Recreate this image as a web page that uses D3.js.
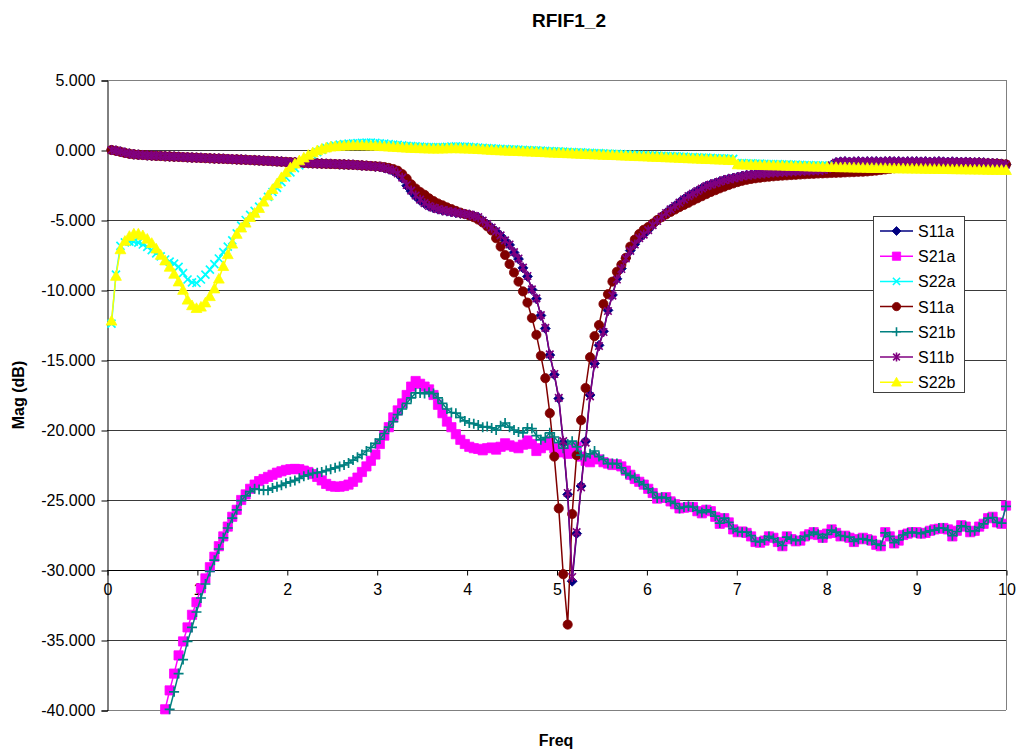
<!DOCTYPE html>
<html>
<head>
<meta charset="utf-8">
<script src="https://cdn.jsdelivr.net/npm/d3@7"></script>
<style>
  html, body { margin: 0; padding: 0; background: #fff; }
  svg { display: block; }
  text { font-family: Arial, "Liberation Sans", sans-serif; fill: #000; }
</style>
</head>
<body>
<svg id="chart" width="1016" height="750"></svg>
<script>
// Sweep: 201 points, 0.05 .. 10 GHz
const sweepStartGHz = 0.05;
const sweepStopGHz = 10;
const sweepPoints = 201;
const freqGHz = d3.range(sweepPoints).map(i => sweepStartGHz + i * (sweepStopGHz - sweepStartGHz) / (sweepPoints - 1));

const yTicks = [5, 0, -5, -10, -15, -20, -25, -30, -35, -40];
const xTicks = [0, 1, 2, 3, 4, 5, 6, 7, 8, 9, 10];

// Magnitudes in dB, one entry per sweep point
const s11aNavy = [0.00,-0.05,-0.12,-0.19,-0.26,-0.31,-0.34,-0.36,-0.38,-0.40,
-0.42,-0.43,-0.44,-0.46,-0.48,-0.49,-0.50,-0.52,-0.54,-0.55,
-0.56,-0.58,-0.59,-0.60,-0.62,-0.63,-0.64,-0.66,-0.67,-0.68,
-0.70,-0.72,-0.73,-0.75,-0.76,-0.78,-0.80,-0.81,-0.83,-0.85,
-0.87,-0.88,-0.90,-0.92,-0.94,-0.95,-0.96,-0.97,-0.99,-1.00,
-1.00,-1.02,-1.03,-1.05,-1.06,-1.08,-1.10,-1.13,-1.15,-1.18,
-1.21,-1.28,-1.37,-1.50,-1.70,-2.02,-2.55,-2.95,-3.30,-3.60,
-3.83,-4.02,-4.14,-4.23,-4.31,-4.37,-4.43,-4.48,-4.53,-4.58,
-4.63,-4.71,-4.82,-5.06,-5.31,-5.56,-5.82,-6.12,-6.47,-6.78,
-7.32,-7.78,-8.42,-9.03,-9.97,-10.63,-11.82,-12.75,-14.65,-16.05,
-17.75,-20.90,-24.60,-30.80,-27.40,-24.00,-20.80,-17.50,-15.25,-13.95,
-12.95,-11.45,-10.35,-9.20,-8.47,-7.72,-7.18,-6.73,-6.28,-6.03,
-5.71,-5.35,-5.05,-4.76,-4.48,-4.22,-3.98,-3.74,-3.50,-3.28,
-3.10,-2.92,-2.74,-2.57,-2.46,-2.36,-2.25,-2.14,-2.06,-2.00,
-1.93,-1.86,-1.80,-1.76,-1.72,-1.69,-1.66,-1.63,-1.60,-1.58,
-1.56,-1.54,-1.52,-1.50,-1.49,-1.47,-1.46,-1.44,-1.43,-1.41,
-1.33,-1.08,-0.89,-0.84,-0.83,-0.85,-0.84,-0.82,-0.84,-0.83,
-0.83,-0.82,-0.84,-0.83,-0.81,-0.83,-0.82,-0.84,-0.83,-0.83,
-0.82,-0.84,-0.83,-0.85,-0.84,-0.82,-0.84,-0.86,-0.84,-0.85,
-0.87,-0.85,-0.87,-0.89,-0.88,-0.90,-0.92,-0.94,-0.96,-0.99,
-1.04];

const s21a = [-62.0,-58.0,-55.0,-52.5,-50.5,-48.8,-47.3,-46.0,-44.7,-43.5,
-42.4,-41.2,-39.95,-38.6,-37.4,-36.1,-35.1,-34.1,-33.2,-32.3,
-31.3,-30.6,-29.8,-29.05,-28.3,-27.6,-26.9,-26.2,-25.7,-25.0,
-24.6,-24.2,-23.9,-23.65,-23.5,-23.35,-23.2,-23.05,-22.95,-22.85,
-22.8,-22.78,-22.8,-22.9,-23.0,-23.15,-23.35,-23.6,-23.85,-24.0,
-24.05,-24.05,-24.0,-23.9,-23.7,-23.4,-23.0,-22.6,-22.2,-21.75,
-21.0,-20.4,-19.8,-19.1,-18.6,-18.1,-17.5,-16.9,-16.5,-16.7,
-16.9,-17.1,-17.5,-18.2,-18.8,-19.4,-19.8,-20.3,-20.7,-21.0,
-21.2,-21.3,-21.35,-21.45,-21.3,-21.25,-21.4,-21.2,-20.95,-21.1,
-21.2,-21.3,-21.05,-20.75,-21.0,-21.5,-21.3,-21.1,-20.8,-21.3,
-21.5,-21.6,-21.7,-21.4,-21.2,-21.9,-22.2,-22.3,-22.0,-22.1,
-22.3,-22.4,-22.5,-22.45,-22.6,-22.9,-23.2,-23.5,-23.7,-23.9,
-24.2,-24.5,-24.9,-24.85,-24.8,-25.1,-25.3,-25.6,-25.55,-25.5,
-25.5,-25.8,-25.95,-25.7,-25.8,-26.2,-26.7,-26.3,-26.6,-27.1,
-27.3,-27.25,-27.35,-27.6,-28.0,-28.05,-27.9,-27.6,-27.7,-28.0,
-28.3,-27.6,-27.8,-27.95,-27.9,-27.6,-27.45,-27.3,-27.5,-27.7,
-27.4,-27.1,-27.35,-27.6,-27.55,-27.7,-28.0,-27.8,-27.7,-27.8,
-27.9,-28.2,-28.3,-27.3,-27.6,-28.1,-27.9,-27.5,-27.4,-27.3,
-27.3,-27.4,-27.35,-27.2,-27.1,-27.05,-27.0,-27.1,-27.6,-27.2,
-26.8,-26.9,-27.3,-27.2,-26.9,-26.7,-26.3,-26.2,-26.6,-26.7,
-25.4];

const s22a = [-12.40,-8.90,-6.85,-6.60,-6.55,-6.55,-6.62,-6.75,-6.92,-7.15,
-7.38,-7.60,-7.82,-7.98,-8.12,-8.35,-8.80,-9.25,-9.45,-9.50,
-9.25,-8.90,-8.55,-8.15,-7.75,-7.30,-6.90,-6.45,-5.95,-5.40,
-5.00,-4.64,-4.35,-4.05,-3.70,-3.35,-3.00,-2.70,-2.30,-1.95,
-1.60,-1.30,-1.10,-0.85,-0.60,-0.38,-0.15,0.00,0.15,0.25,
0.32,0.38,0.42,0.45,0.48,0.50,0.51,0.52,0.52,0.51,
0.48,0.45,0.42,0.39,0.36,0.33,0.30,0.28,0.26,0.24,
0.22,0.21,0.20,0.20,0.21,0.23,0.25,0.26,0.25,0.24,
0.22,0.20,0.18,0.16,0.14,0.12,0.10,0.08,0.07,0.05,
0.04,0.03,0.01,0.00,-0.02,-0.03,-0.05,-0.06,-0.08,-0.09,
-0.10,-0.12,-0.13,-0.15,-0.16,-0.17,-0.19,-0.20,-0.22,-0.23,
-0.24,-0.26,-0.27,-0.28,-0.30,-0.31,-0.32,-0.34,-0.35,-0.36,
-0.38,-0.39,-0.40,-0.42,-0.43,-0.44,-0.46,-0.47,-0.48,-0.50,
-0.51,-0.52,-0.54,-0.55,-0.56,-0.58,-0.59,-0.60,-0.62,-0.63,
-0.93,-0.94,-0.95,-0.96,-0.97,-0.98,-0.99,-1.00,-1.00,-1.01,
-1.02,-1.03,-1.04,-1.05,-1.06,-1.07,-1.08,-1.09,-1.10,-1.10,
-1.11,-1.12,-1.13,-1.14,-1.14,-1.15,-1.16,-1.17,-1.17,-1.18,
-1.19,-1.19,-1.20,-1.20,-1.21,-1.21,-1.22,-1.22,-1.23,-1.23,
-1.24,-1.24,-1.25,-1.25,-1.26,-1.26,-1.27,-1.27,-1.28,-1.28,
-1.29,-1.29,-1.30,-1.30,-1.31,-1.31,-1.32,-1.32,-1.33,-1.33,
-1.34];

const s11aRed = [0.00,-0.06,-0.13,-0.21,-0.27,-0.31,-0.34,-0.36,-0.38,-0.40,
-0.42,-0.43,-0.45,-0.46,-0.48,-0.49,-0.51,-0.52,-0.54,-0.55,
-0.57,-0.58,-0.59,-0.61,-0.62,-0.63,-0.65,-0.66,-0.67,-0.69,
-0.70,-0.72,-0.73,-0.75,-0.77,-0.78,-0.80,-0.82,-0.84,-0.85,
-0.87,-0.89,-0.90,-0.92,-0.94,-0.95,-0.96,-0.98,-0.99,-1.00,
-1.01,-1.02,-1.03,-1.05,-1.06,-1.08,-1.10,-1.12,-1.14,-1.16,
-1.18,-1.22,-1.28,-1.36,-1.48,-1.72,-2.05,-2.45,-2.75,-3.00,
-3.20,-3.45,-3.65,-3.82,-3.95,-4.10,-4.22,-4.35,-4.47,-4.57,
-4.67,-4.80,-4.97,-5.18,-5.45,-5.75,-6.30,-6.90,-7.50,-8.15,
-8.75,-9.40,-10.10,-10.90,-12.00,-13.20,-14.70,-16.30,-18.80,-21.90,
-25.60,-30.30,-33.90,-26.00,-21.80,-19.30,-17.00,-14.80,-13.30,-12.50,
-11.00,-10.30,-9.40,-8.70,-8.20,-7.70,-6.90,-6.40,-6.00,-5.70,
-5.50,-5.25,-5.00,-4.80,-4.60,-4.42,-4.25,-4.08,-3.92,-3.77,
-3.60,-3.45,-3.30,-3.15,-3.00,-2.87,-2.74,-2.62,-2.50,-2.39,
-2.29,-2.20,-2.13,-2.07,-2.02,-1.98,-1.94,-1.91,-1.88,-1.85,
-1.83,-1.81,-1.79,-1.77,-1.75,-1.73,-1.71,-1.70,-1.68,-1.67,
-1.66,-1.64,-1.63,-1.62,-1.60,-1.59,-1.58,-1.56,-1.55,-1.53,
-1.50,-1.47,-1.43,-1.39,-1.35,-1.30,-1.25,-1.20,-1.15,-1.10,
-1.07,-1.04,-1.02,-1.00,-0.99,-0.98,-0.97,-0.96,-0.96,-0.95,
-0.95,-0.94,-0.94,-0.95,-0.94,-0.95,-0.96,-0.97,-0.98,-1.00,
-1.03];

const s21b = [-66.0,-61.0,-57.0,-54.0,-52.0,-50.0,-48.5,-47.2,-46.0,-44.9,
-43.8,-42.6,-41.3,-39.95,-38.7,-37.4,-36.4,-35.1,-34.1,-33.0,
-32.0,-31.0,-30.1,-29.3,-28.5,-27.7,-27.0,-26.3,-25.7,-25.05,
-24.7,-24.4,-24.2,-24.25,-24.3,-24.3,-24.15,-24.05,-23.95,-23.8,
-23.7,-23.6,-23.45,-23.3,-23.2,-23.1,-23.05,-23.0,-22.9,-22.8,
-22.7,-22.6,-22.5,-22.35,-22.15,-21.95,-21.75,-21.5,-21.25,-20.95,
-20.65,-20.25,-19.8,-19.4,-18.9,-18.5,-18.1,-17.7,-17.35,-17.35,
-17.4,-17.3,-17.4,-17.7,-18.1,-18.5,-18.75,-18.8,-19.1,-19.35,
-19.5,-19.55,-19.65,-19.8,-19.75,-19.85,-20.0,-19.7,-19.5,-19.8,
-20.0,-20.15,-20.2,-19.85,-19.9,-20.4,-20.7,-20.55,-20.2,-20.5,
-20.9,-21.3,-21.0,-20.8,-21.2,-21.8,-21.9,-21.7,-21.5,-21.9,
-22.1,-22.4,-22.4,-22.4,-22.7,-23.1,-23.25,-23.4,-23.7,-23.9,
-24.2,-24.45,-24.85,-24.8,-24.85,-25.1,-25.25,-25.6,-25.5,-25.45,
-25.5,-25.75,-25.9,-25.7,-25.85,-26.15,-26.65,-26.3,-26.6,-27.05,
-27.25,-27.3,-27.3,-27.55,-27.95,-28.0,-27.85,-27.6,-27.75,-28.0,
-28.25,-27.65,-27.8,-27.9,-27.85,-27.6,-27.5,-27.3,-27.45,-27.7,
-27.45,-27.15,-27.3,-27.55,-27.6,-27.65,-27.95,-27.8,-27.75,-27.85,
-27.9,-28.15,-28.25,-27.35,-27.6,-28.05,-27.85,-27.5,-27.35,-27.3,
-27.35,-27.4,-27.3,-27.2,-27.15,-27.0,-27.0,-27.15,-27.55,-27.25,
-26.85,-26.9,-27.25,-27.2,-26.95,-26.7,-26.3,-26.25,-26.6,-26.65,
-25.45];

const s11b = [0.00,-0.05,-0.12,-0.20,-0.26,-0.31,-0.34,-0.36,-0.38,-0.40,
-0.41,-0.43,-0.44,-0.46,-0.47,-0.49,-0.50,-0.52,-0.53,-0.55,
-0.56,-0.57,-0.59,-0.60,-0.61,-0.63,-0.64,-0.65,-0.67,-0.68,
-0.70,-0.71,-0.73,-0.74,-0.76,-0.78,-0.79,-0.81,-0.83,-0.85,
-0.86,-0.88,-0.90,-0.92,-0.93,-0.95,-0.96,-0.97,-0.98,-0.99,
-1.00,-1.01,-1.03,-1.04,-1.06,-1.08,-1.10,-1.12,-1.15,-1.18,
-1.20,-1.27,-1.36,-1.48,-1.68,-1.98,-2.50,-2.90,-3.25,-3.55,
-3.80,-4.00,-4.12,-4.22,-4.30,-4.36,-4.42,-4.47,-4.52,-4.57,
-4.62,-4.70,-4.80,-5.05,-5.30,-5.55,-5.80,-6.10,-6.45,-6.75,
-7.30,-7.75,-8.40,-9.00,-9.95,-10.60,-11.80,-12.70,-14.60,-16.00,
-17.70,-20.80,-24.50,-30.50,-27.30,-24.10,-20.90,-17.60,-15.30,-14.00,
-13.00,-11.50,-10.40,-9.25,-8.50,-7.75,-7.20,-6.75,-6.30,-6.05,
-5.73,-5.37,-5.07,-4.78,-4.50,-4.24,-4.00,-3.76,-3.52,-3.29,
-3.11,-2.93,-2.75,-2.58,-2.47,-2.37,-2.26,-2.15,-2.07,-2.01,
-1.94,-1.87,-1.80,-1.77,-1.73,-1.70,-1.67,-1.64,-1.61,-1.59,
-1.57,-1.55,-1.53,-1.51,-1.50,-1.48,-1.47,-1.45,-1.44,-1.42,
-1.35,-1.10,-0.90,-0.85,-0.83,-0.86,-0.84,-0.82,-0.85,-0.83,
-0.84,-0.82,-0.85,-0.83,-0.81,-0.84,-0.82,-0.85,-0.83,-0.84,
-0.82,-0.85,-0.83,-0.86,-0.84,-0.82,-0.85,-0.87,-0.84,-0.86,
-0.88,-0.85,-0.87,-0.90,-0.88,-0.91,-0.93,-0.95,-0.97,-1.00,
-1.05];

const s22b = [-12.20,-9.00,-7.10,-6.50,-6.15,-5.98,-5.98,-6.10,-6.35,-6.65,
-7.05,-7.50,-7.90,-8.35,-8.85,-9.40,-10.00,-10.70,-11.10,-11.30,
-11.20,-10.90,-10.45,-9.90,-9.20,-8.30,-7.45,-6.70,-6.00,-5.55,
-5.20,-4.80,-4.50,-4.15,-3.70,-3.25,-2.80,-2.40,-1.95,-1.60,
-1.25,-0.98,-0.75,-0.55,-0.36,-0.18,-0.03,0.08,0.17,0.24,
0.26,0.29,0.31,0.32,0.33,0.33,0.33,0.32,0.31,0.30,
0.28,0.26,0.24,0.22,0.20,0.18,0.16,0.14,0.13,0.12,
0.11,0.10,0.09,0.09,0.10,0.11,0.12,0.12,0.11,0.10,
0.09,0.08,0.06,0.04,0.02,0.00,-0.02,-0.03,-0.05,-0.06,
-0.07,-0.08,-0.10,-0.11,-0.12,-0.14,-0.15,-0.17,-0.19,-0.20,
-0.21,-0.22,-0.24,-0.25,-0.27,-0.28,-0.30,-0.31,-0.32,-0.33,
-0.35,-0.36,-0.37,-0.38,-0.40,-0.41,-0.42,-0.44,-0.45,-0.46,
-0.47,-0.49,-0.50,-0.51,-0.53,-0.54,-0.55,-0.57,-0.58,-0.60,
-0.61,-0.62,-0.64,-0.65,-0.66,-0.68,-0.69,-0.70,-0.72,-0.73,
-1.03,-1.04,-1.05,-1.06,-1.07,-1.08,-1.09,-1.10,-1.10,-1.11,
-1.12,-1.13,-1.14,-1.15,-1.16,-1.17,-1.18,-1.19,-1.20,-1.20,
-1.21,-1.22,-1.23,-1.24,-1.24,-1.25,-1.26,-1.27,-1.27,-1.28,
-1.29,-1.29,-1.30,-1.30,-1.31,-1.31,-1.32,-1.32,-1.33,-1.33,
-1.34,-1.34,-1.35,-1.35,-1.36,-1.36,-1.37,-1.37,-1.38,-1.38,
-1.39,-1.39,-1.40,-1.40,-1.41,-1.41,-1.42,-1.42,-1.43,-1.43,
-1.44];

// ---- marker shapes (size = half-width in px) ----
const symDiamond = { draw(c, r) { c.moveTo(0, -r); c.lineTo(r, 0); c.lineTo(0, r); c.lineTo(-r, 0); c.closePath(); } };
const symSquare = { draw(c, r) { c.rect(-r, -r, 2 * r, 2 * r); } };
const symCircle = { draw(c, r) { c.moveTo(r, 0); c.arc(0, 0, r, 0, 2 * Math.PI); } };
const symTriangle = { draw(c, r) { c.moveTo(0, -r); c.lineTo(r, r * 0.8); c.lineTo(-r, r * 0.8); c.closePath(); } };
const symX = { draw(c, r) { c.moveTo(-r, -r); c.lineTo(r, r); c.moveTo(-r, r); c.lineTo(r, -r); } };
const symPlus = { draw(c, r) { c.moveTo(-r, 0); c.lineTo(r, 0); c.moveTo(0, -r); c.lineTo(0, r); } };
const symStar = { draw(c, r) { const d = r * 0.75; c.moveTo(-d, -d); c.lineTo(d, d); c.moveTo(-d, d); c.lineTo(d, -d); c.moveTo(0, -r); c.lineTo(0, r); } };

const series = [
  { name: "S11a", values: s11aNavy, color: "#000080", shape: symDiamond, r: 5.0, filled: true },
  { name: "S21a", values: s21a, color: "#FF00FF", shape: symSquare, r: 4.6, filled: true },
  { name: "S22a", values: s22a, color: "#00FFFF", shape: symX, r: 4.0, filled: false },
  { name: "S11a", values: s11aRed, color: "#800000", shape: symCircle, r: 4.6, filled: true },
  { name: "S21b", values: s21b, color: "#008080", shape: symPlus, r: 5.0, filled: false },
  { name: "S11b", values: s11b, color: "#800080", shape: symStar, r: 5.0, filled: false },
  { name: "S22b", values: s22b, color: "#FFFF00", shape: symTriangle, r: 5.4, filled: true }
];

// ---- layout ----
const svg = d3.select("#chart");
const plot = { left: 107, right: 1006, top: 80, bottom: 710 };
const x = d3.scaleLinear().domain([0, 10]).range([plot.left, plot.right]);
const y = d3.scaleLinear().domain([-40, 5]).range([plot.bottom, plot.top]);
const fmtY = v => d3.format(".3f")(v).replace("\u2212", "-");

svg.append("defs").append("clipPath").attr("id", "plotClip")
  .append("rect")
  .attr("x", plot.left).attr("y", plot.top)
  .attr("width", plot.right - plot.left).attr("height", plot.bottom - plot.top);

// horizontal gridlines
svg.append("g").selectAll("line").data(yTicks).join("line")
  .attr("x1", plot.left).attr("x2", plot.right)
  .attr("y1", d => Math.round(y(d)) + 0.5).attr("y2", d => Math.round(y(d)) + 0.5)
  .attr("stroke", d => (d === 5 || d === -40) ? "#808080" : "#3a3a3a")
  .attr("stroke-width", 1);

// right border of plot area
svg.append("line")
  .attr("x1", plot.right + 0.5).attr("x2", plot.right + 0.5)
  .attr("y1", plot.top).attr("y2", plot.bottom)
  .attr("stroke", "#808080");

// y axis
const yAxis = d3.axisLeft(y).tickValues(yTicks).tickFormat(fmtY).tickSize(6).tickPadding(6);
svg.append("g").attr("transform", `translate(${plot.left + 0.5},0.5)`).call(yAxis)
  .call(g => g.select(".domain").attr("stroke", "#000"))
  .call(g => g.selectAll(".tick line").attr("stroke", "#000"))
  .call(g => g.selectAll(".tick text")
    .attr("font-family", "Arial, 'Liberation Sans', sans-serif")
    .attr("font-size", 16).attr("fill", "#000"));

// x axis crossing at -30 dB
const xAxis = d3.axisBottom(x).tickValues(xTicks).tickFormat(d3.format("d")).tickSize(5).tickPadding(8);
svg.append("g").attr("transform", `translate(0.5,${Math.round(y(-30)) + 0.5})`).call(xAxis)
  .call(g => g.select(".domain").attr("stroke", "#000").attr("d", `M${plot.left},0H${plot.right}`))
  .call(g => g.selectAll(".tick line").attr("stroke", "#000"))
  .call(g => g.selectAll(".tick text")
    .attr("font-family", "Arial, 'Liberation Sans', sans-serif")
    .attr("font-size", 16).attr("fill", "#000"));

// data series: line then markers, in series order
const line = d3.line().x((d, i) => x(freqGHz[i])).y(d => y(d));
const inRange = v => v >= -40.05 && v <= 5.05;

series.forEach(s => {
  const g = svg.append("g");
  g.append("path")
    .attr("d", line(s.values))
    .attr("fill", "none")
    .attr("stroke", s.color)
    .attr("stroke-width", 1.5)
    .attr("clip-path", "url(#plotClip)");
  const sym = d3.symbol().type(s.shape).size(s.r);
  g.selectAll("path.mk")
    .data(s.values.map((v, i) => ({ f: freqGHz[i], v })).filter(d => inRange(d.v)))
    .join("path")
    .attr("class", "mk")
    .attr("transform", d => `translate(${x(d.f)},${y(d.v)})`)
    .attr("d", sym)
    .attr("fill", s.filled ? s.color : "none")
    .attr("stroke", s.color)
    .attr("stroke-width", s.filled ? 0.8 : 1.7);
});

// titles
svg.append("text").attr("x", 569).attr("y", 27).attr("text-anchor", "middle")
  .attr("font-size", 19).attr("font-weight", "bold").text("RFIF1_2");
svg.append("text").attr("x", 556).attr("y", 746).attr("text-anchor", "middle")
  .attr("font-size", 16).attr("font-weight", "bold").text("Freq");
svg.append("text").attr("transform", "translate(24,395) rotate(-90)").attr("text-anchor", "middle")
  .attr("font-size", 16).attr("font-weight", "bold").text("Mag (dB)");

// legend
const legend = svg.append("g");
legend.append("rect")
  .attr("x", 873.5).attr("y", 216.5).attr("width", 91).attr("height", 176)
  .attr("fill", "#fff").attr("stroke", "#404040").attr("stroke-width", 1);
series.forEach((s, i) => {
  const cy = 231 + i * 25.2;
  legend.append("line").attr("x1", 880).attr("x2", 913).attr("y1", cy).attr("y2", cy)
    .attr("stroke", s.color).attr("stroke-width", 1.5);
  legend.append("path")
    .attr("transform", `translate(896.5,${cy})`)
    .attr("d", d3.symbol().type(s.shape).size(s.r * 0.9)())
    .attr("fill", s.filled ? s.color : "none")
    .attr("stroke", s.color)
    .attr("stroke-width", s.filled ? 0.8 : 1.6);
  legend.append("text").attr("x", 918).attr("y", cy + 6)
    .attr("font-size", 16).text(s.name);
});
</script>
</body>
</html>
